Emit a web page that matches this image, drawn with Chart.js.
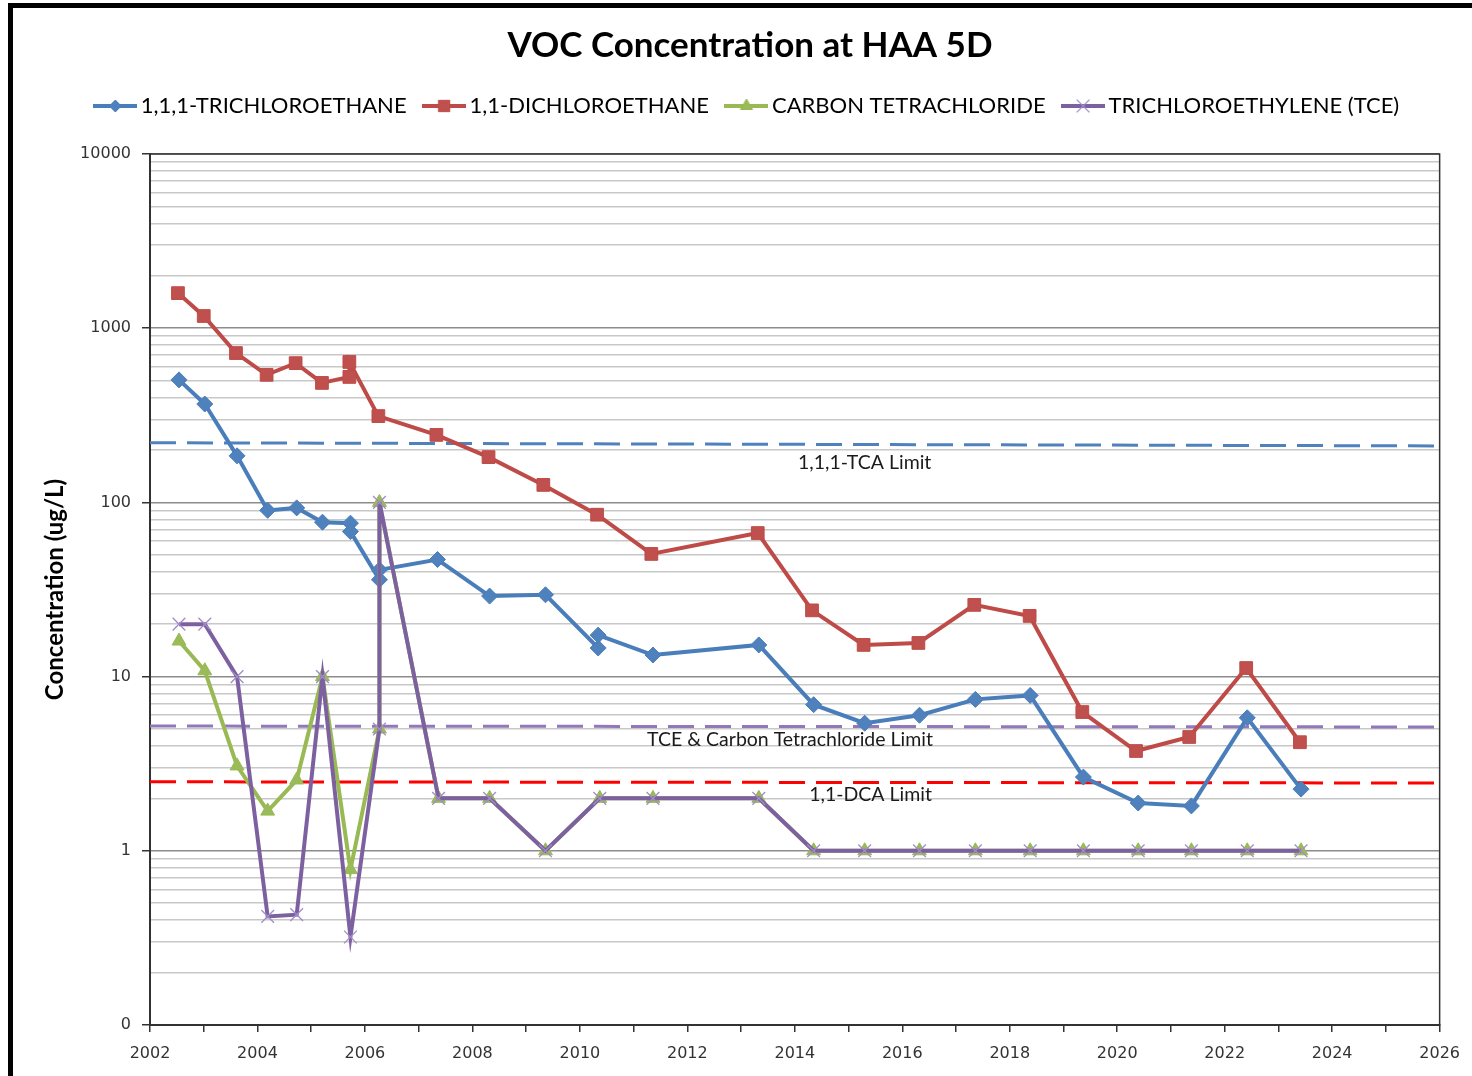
<!DOCTYPE html>
<html>
<head>
<meta charset="utf-8">
<title>VOC Concentration at HAA 5D</title>
<script src="https://cdn.jsdelivr.net/npm/chart.js@4.4.1/dist/chart.umd.min.js"></script>
<style>
  body { margin: 0; background: #fff; }
  canvas { display: block; }
</style>
</head>
<body>
<canvas id="vocChart" width="1472" height="1076"></canvas>
<script>
// sample dates (decimal years) and concentrations (ug/L)
const tcaDates = [2002.54, 2003.02, 2003.62, 2004.19, 2004.73, 2005.21, 2005.73, 2005.73, 2006.27, 2006.27, 2007.35, 2008.32, 2009.36, 2010.34, 2010.34, 2011.36, 2013.33, 2014.35, 2015.30, 2016.32, 2017.36, 2018.38, 2019.37, 2020.39, 2021.38, 2022.42, 2023.42];
const tcaValues = [505, 367, 185, 90, 93, 77, 76, 68, 36, 41, 47, 29, 29.5, 14.6, 17.3, 13.3, 15.2, 6.9, 5.4, 6.0, 7.4, 7.8, 2.65, 1.88, 1.81, 5.8, 2.26];

const dcaDates = [2002.52, 2003.00, 2003.60, 2004.17, 2004.71, 2005.20, 2005.71, 2005.71, 2006.25, 2007.33, 2008.30, 2009.32, 2010.32, 2011.33, 2013.31, 2014.32, 2015.28, 2016.30, 2017.34, 2018.37, 2019.35, 2020.35, 2021.34, 2022.40, 2023.40];
const dcaValues = [1590, 1175, 720, 540, 630, 485, 525, 640, 313, 244, 182, 126, 85, 50.6, 66.7, 24, 15.2, 15.6, 25.8, 22.3, 6.26, 3.74, 4.5, 11.2, 4.2];

const ctDates = [2002.54, 2003.02, 2003.62, 2004.19, 2004.73, 2005.21, 2005.73, 2006.27, 2006.27, 2007.37, 2008.32, 2009.36, 2010.37, 2011.36, 2013.33, 2014.35, 2015.30, 2016.32, 2017.36, 2018.38, 2019.37, 2020.39, 2021.38, 2022.42, 2023.42];
const ctValues = [16, 10.8, 3.07, 1.69, 2.55, 10, 0.78, 5, 100, 2, 2, 1, 2, 2, 2, 1, 1, 1, 1, 1, 1, 1, 1, 1, 1];

const tceDates = [2002.54, 2003.02, 2003.62, 2004.19, 2004.73, 2005.21, 2005.73, 2006.27, 2006.27, 2007.37, 2008.32, 2009.36, 2010.37, 2011.36, 2013.33, 2014.35, 2015.30, 2016.32, 2017.36, 2018.38, 2019.37, 2020.39, 2021.38, 2022.42, 2023.42];
const tceValues = [20, 20, 10, 0.42, 0.43, 10, 0.32, 5, 100, 2, 2, 1, 2, 2, 2, 1, 1, 1, 1, 1, 1, 1, 1, 1, 1];

// limit lines (start / end of the x range)
const limitYears = [2002, 2026];
const tcaLimit = [220, 211];
const tceCtLimit = [5.2, 5.14];
const dcaLimit = [2.49, 2.45];

const limitTexts = ['1,1,1-TCA Limit', 'TCE & Carbon Tetrachloride Limit', '1,1-DCA Limit'];
const limitTextYears = [2015.30, 2013.91, 2015.41];
const limitTextValues = [170, 4.33, 2.09];

const seriesNames = ['1,1,1-TRICHLOROETHANE', '1,1-DICHLOROETHANE', 'CARBON TETRACHLORIDE', 'TRICHLOROETHYLENE (TCE)'];

const yDecades = [0.1, 1, 10, 100, 1000, 10000];
const yDecadeLabels = ['0', '1', '10', '100', '1000', '10000'];
const xMin = 2002, xMax = 2026;

const toPoints = (xs, ys) => xs.map((x, i) => ({ x: x, y: ys[i] }));

function decadeIndex(v) {
  return yDecades.findIndex(d => Math.abs(v - d) / d < 1e-6);
}

// grid values: 1..9 in every decade
const yGridValues = [];
yDecades.forEach((d, i) => {
  if (i === yDecades.length - 1) { yGridValues.push(d); return; }
  for (let m = 1; m < 10; m++) yGridValues.push(d * m);
});

function makeIcon(lineColor, style, fill, stroke, radius, bw) {
  const c = document.createElement('canvas');
  c.width = 44; c.height = 20;
  const g = c.getContext('2d');
  g.strokeStyle = lineColor; g.lineWidth = 4;
  g.beginPath(); g.moveTo(0, 10); g.lineTo(44, 10); g.stroke();
  g.fillStyle = fill; g.strokeStyle = stroke; g.lineWidth = bw;
  Chart.helpers.drawPoint(g, { pointStyle: style, radius: radius, borderWidth: bw }, 22, 10);
  return c;
}

const icons = [
  makeIcon('#4A7EBB', 'rectRot', '#4F81BD', '#4A7EBB', 6, 1),
  makeIcon('#BE4B48', 'rect', '#C0504D', '#BE4B48', 8, 1),
  makeIcon('#98B954', 'triangle', '#9BBB59', '#98B954', 7, 1),
  makeIcon('#7D60A0', 'crossRot', '#7D60A0', '#A08CC8', 9, 1.3)
];

const framePlugin = {
  id: 'frame',
  beforeDraw(chart) {
    const c = chart.ctx;
    c.save();
    c.fillStyle = '#fff';
    c.fillRect(0, 0, chart.width, chart.height);
    c.restore();
  },
  beforeDatasetsDraw(chart) {
    const { ctx: c, chartArea: a } = chart;
    c.save();
    c.strokeStyle = '#333';
    c.lineWidth = 1.5;
    c.strokeRect(a.left, a.top, a.right - a.left, a.bottom - a.top);
    c.restore();
  },
  afterDatasetsDraw(chart) {
    const c = chart.ctx;
    const xs = chart.scales.x, ys = chart.scales.y;
    c.save();
    c.font = '19.5px Lato';
    c.fillStyle = '#1a1a1a';
    c.textAlign = 'center';
    c.textBaseline = 'middle';
    limitTexts.forEach((t, i) => {
      c.fillText(t, xs.getPixelForValue(limitTextYears[i]), ys.getPixelForValue(limitTextValues[i]));
    });
    c.restore();
  },
  afterDraw(chart) {
    const c = chart.ctx;
    c.save();
    c.fillStyle = '#000';
    c.fillRect(8, 3, chart.width - 8, 5);
    c.fillRect(8, 3, 5, chart.height - 3);
    c.restore();
  }
};

const limitStyle = { borderWidth: 3, pointRadius: 0, fill: false, order: 10 };

new Chart(document.getElementById('vocChart'), {
  type: 'line',
  data: {
    datasets: [
      {
        label: seriesNames[0], data: toPoints(tcaDates, tcaValues),
        borderColor: '#4A7EBB', borderWidth: 4,
        pointStyle: 'rectRot', pointRadius: 8, pointBackgroundColor: '#4F81BD', pointBorderColor: '#4A7EBB', pointBorderWidth: 1,
        order: 4
      },
      {
        label: seriesNames[1], data: toPoints(dcaDates, dcaValues),
        borderColor: '#BE4B48', borderWidth: 4,
        pointStyle: 'rect', pointRadius: 9, pointBackgroundColor: '#C0504D', pointBorderColor: '#BE4B48', pointBorderWidth: 1,
        order: 3
      },
      {
        label: seriesNames[2], data: toPoints(ctDates, ctValues),
        borderColor: '#98B954', borderWidth: 4,
        pointStyle: 'triangle', pointRadius: 8, pointBackgroundColor: '#9BBB59', pointBorderColor: '#98B954', pointBorderWidth: 1,
        order: 2
      },
      {
        label: seriesNames[3], data: toPoints(tceDates, tceValues),
        borderColor: '#7D60A0', borderWidth: 4,
        pointStyle: 'crossRot', pointRadius: 9, pointBackgroundColor: '#7D60A0', pointBorderColor: '#A08CC8', pointBorderWidth: 1.3,
        order: 1
      },
      Object.assign({ label: 'tca limit', data: toPoints(limitYears, tcaLimit), borderColor: '#4F81BD', borderDash: [26, 11] }, limitStyle),
      Object.assign({ label: 'tce limit', data: toPoints(limitYears, tceCtLimit), borderColor: '#9078BA', borderDash: [26, 11] }, limitStyle),
      Object.assign({ label: 'dca limit', data: toPoints(limitYears, dcaLimit), borderColor: '#FF0000', borderDash: [26, 11] }, limitStyle)
    ]
  },
  options: {
    responsive: false,
    animation: false,
    events: [],
    layout: { padding: { left: 58, right: 30, top: 0, bottom: 0 } },
    elements: { line: { tension: 0 } },
    plugins: {
      title: {
        display: true,
        text: 'VOC Concentration at HAA 5D',
        color: '#000',
        font: { family: 'Lato', size: 35, weight: 'bold', lineHeight: 1.2 },
        padding: { top: 25, bottom: 5 }
      },
      subtitle: {
        // spacer between legend and plot
        display: true, text: ' ', weight: 500,
        font: { size: 27, lineHeight: 1 }, padding: 0
      },
      legend: {
        position: 'top',
        labels: {
          usePointStyle: true,
          pointStyleWidth: 29,
          padding: 23,
          color: '#1a1a1a',
          font: { family: 'Lato', size: 22 },
          generateLabels: chart => seriesNames.map((name, i) => ({
            text: name, pointStyle: icons[i], datasetIndex: i,
            fillStyle: 'transparent', strokeStyle: 'transparent', lineWidth: 0, hidden: false
          }))
        }
      },
      tooltip: { enabled: false }
    },
    scales: {
      x: {
        type: 'linear', min: xMin, max: xMax,
        afterFit: s => { s.height = 51; },
        ticks: {
          stepSize: 1, autoSkip: false, maxRotation: 0, padding: 12,
          color: '#333', font: { family: 'DejaVu Sans', size: 16 },
          callback: v => (v % 2 === 0 ? String(v) : '')
        },
        grid: { drawOnChartArea: false, tickLength: 7, color: '#333', lineWidth: 1.5 },
        border: { color: '#333', width: 2 }
      },
      y: {
        type: 'logarithmic', min: 0.1, max: 10000,
        afterBuildTicks: s => { s.ticks = yGridValues.map(v => ({ value: v })); },
        afterFit: s => { s.width = 92; },
        ticks: {
          autoSkip: false, padding: 11,
          color: '#333', font: { family: 'DejaVu Sans', size: 16 },
          callback: v => { const i = decadeIndex(v); return i >= 0 ? yDecadeLabels[i] : ''; }
        },
        grid: {
          color: c => (decadeIndex(c.tick.value) >= 0 ? '#8c8c8c' : '#c8c8c8'),
          lineWidth: 1.5,
          tickLength: 8,
          tickColor: c => (decadeIndex(c.tick.value) >= 0 ? '#333' : 'rgba(0,0,0,0)')
        },
        border: { color: '#333', width: 2 },
        title: {
          display: true, text: 'Concentration (ug/L)', color: '#000',
          font: { family: 'Lato', size: 24, weight: 'bold' },
          padding: { top: -17.4, bottom: 0 }
        }
      }
    }
  },
  plugins: [framePlugin]
});
</script>
</body>
</html>
